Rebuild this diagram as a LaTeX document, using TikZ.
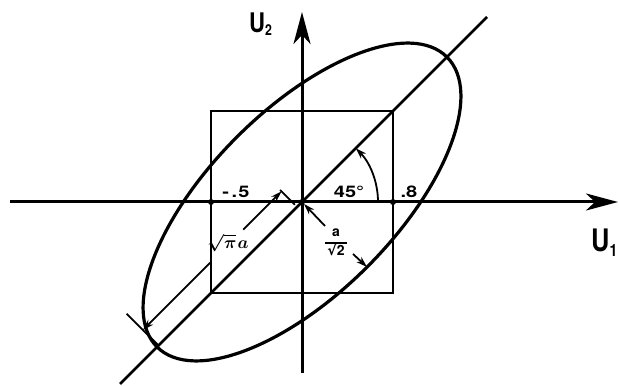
\documentclass[tikz,border=0pt]{standalone}
\usepackage{fontspec}
\setmainfont{TeX Gyre Heros}
\newfontfamily\djv{DejaVu Sans}
\usetikzlibrary{arrows.meta,calc}
\begin{document}
\begin{tikzpicture}[x=1pt,y=1pt,
  axis/.style={line width=3pt,-{Stealth[length=32pt,width=17pt,inset=9pt]}},
  heavy/.style={line width=2.8pt},
  dimline/.style={line width=1.8pt,-{Stealth[length=11pt,width=7pt]}},
  tickline/.style={line width=1.8pt},
  lbl/.style={font=\bfseries\fontsize{16}{16}\selectfont, inner sep=0pt, xscale=1.25},
  mlbl/.style={inner sep=0pt, font=\fontsize{16}{16}\selectfont\mathversion{bold}},
  ulbl/.style={inner sep=0pt, anchor=base west, xscale=0.82},
  dot/.style={circle,fill=black,inner sep=0pt,minimum size=6pt}]
\useasboundingbox (0,0) rectangle (620,385);
% axes
\coordinate (O) at (302,183);
\coordinate (XL) at (10,183);
\coordinate (XR) at (618,183);
\coordinate (YB) at (302,12);
\coordinate (YT) at (302,373);
\draw[axis] (XL) -- (XR);
\draw[axis] (YB) -- (YT);
% square
\node[draw,heavy,minimum size=182pt,inner sep=0pt] (sq) at (O) {};
% diagonal
\coordinate (DL) at ($(O)+(-182,-182)$);
\coordinate (DR) at ($(O)+(185,185)$);
\draw[heavy] (DL) -- (DR);
% ellipse
\draw[line width=3.2pt, rotate around={45:(O)}] (O) ellipse [x radius=205, y radius=92];
% dots
\node[dot] (pL) at (211,183) {};
\node[dot] (pR) at (393,183) {};
\node[dot] (pO) at (O) {};
% semi-major dimension
\coordinate (T1a) at (294.9,180.2);
\coordinate (T1b) at (280.1,195.0);
\coordinate (A1) at (281.5,193.6);
\coordinate (S1) at (243.2,155.3);
\coordinate (S2) at (210.1,122.2);
\coordinate (A2) at (142.9,55.0);
\coordinate (T2a) at (158.5,39.5);
\coordinate (T2b) at (126.6,71.3);
\draw[tickline] (T1a) -- (T1b);
\draw[tickline] (T2a) -- (T2b);
\draw[dimline] (S1) -- (A1);
\draw[dimline] (S2) -- (A2);
\node[mlbl] (lmaj) at (228,142) {$\sqrt{\pi}\mkern1mu a$};
% semi-minor dimension
\coordinate (W) at (367,118);
\coordinate (B1) at (325,159);
\coordinate (B2) at (353,131);
\coordinate (Ot) at (304,181);
\draw[dimline] (B1) -- (Ot);
\draw[dimline] (B2) -- (W);
\node[inner sep=0pt, font=\bfseries\fontsize{14}{14}\selectfont] (lmin) at (336,142)
  {\renewcommand{\arraystretch}{1.05}\setlength{\arrayrulewidth}{1.6pt}\begin{tabular}{@{\,}c@{\,}}a\\[1pt]\hline{\djv\bfseries √}2\end{tabular}};
% angle arc
\coordinate (ArcS) at ($(O)+(76,0)$);
\draw[dimline] (ArcS) arc[start angle=0,end angle=45,radius=76];
% labels
\node[lbl] (m5) at (236,193) {-\hspace{2pt}.\hspace{1pt}5};
\node[lbl] (f45) at (349,193) {45°};
\node[lbl] (p8) at (409,193) {.8};
\node[ulbl, font=\bfseries\fontsize{27}{27}\selectfont] (U2) at (249,352) {U\raisebox{-3pt}{\fontsize{15}{15}\selectfont 2}};
\node[ulbl, font=\bfseries\fontsize{31}{31}\selectfont] (U1) at (591,133) {U\raisebox{-5pt}{\fontsize{17}{17}\selectfont 1}};
\end{tikzpicture}
\end{document}
